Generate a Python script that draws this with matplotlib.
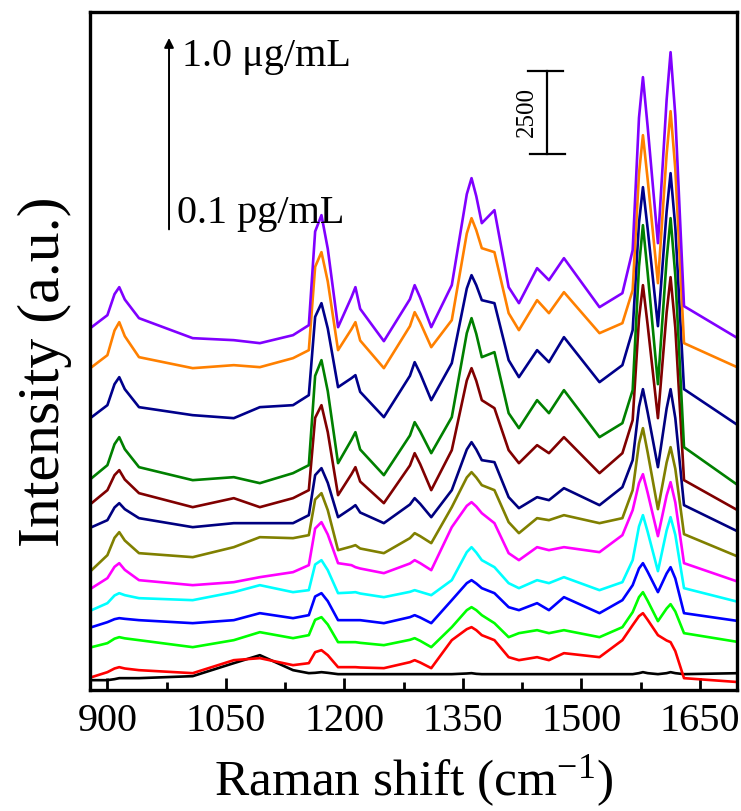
import numpy as np
import matplotlib
matplotlib.use('Agg')
import matplotlib.pyplot as plt

plt.rcParams['font.family'] = ['Liberation Serif', 'DejaVu Serif']
plt.rcParams['mathtext.fontset'] = 'custom'
plt.rcParams['mathtext.rm'] = 'Liberation Serif'
plt.rcParams['mathtext.it'] = 'Liberation Serif:italic'

# Raman shift positions (cm-1) where the spectra were read
shift = [880, 900, 909, 915, 922, 940, 1008, 1060, 1093, 1135, 1155, 1163, 1171, 1179, 1192, 1209,
         1214, 1220, 1250, 1283, 1289, 1296, 1310, 1336, 1355, 1361, 1367, 1374, 1390, 1408, 1421, 1444,
         1459, 1478, 1523, 1552, 1565, 1573, 1578, 1584, 1597, 1608, 1613, 1619, 1630, 1700]

# intensities (counts), bottom spectrum (blank) first, up to the highest concentration
blank = [300, 300, 330, 360, 360, 360, 420, 810, 1050, 600, 510, 520, 540, 520, 480, 480,
         480, 480, 480, 480, 480, 480, 480, 480, 500, 510, 490, 480, 480, 480, 480, 480,
         480, 480, 480, 480, 480, 510, 540, 510, 480, 510, 540, 510, 480, 510]
c01 = [390, 540, 650, 690, 650, 600, 510, 900, 960, 750, 810, 1140, 1200, 1050, 690, 690,
       690, 680, 660, 840, 900, 830, 660, 1500, 1830, 1890, 1800, 1650, 1500, 990, 900, 990,
       900, 1110, 990, 1500, 1950, 2220, 2310, 2110, 1650, 1490, 1440, 1170, 360, 240]
c02 = [1290, 1410, 1545, 1590, 1555, 1500, 1290, 1500, 1740, 1560, 1650, 2110, 2190, 1970, 1440, 1440,
       1440, 1420, 1350, 1510, 1560, 1480, 1290, 1890, 2400, 2490, 2400, 2250, 2010, 1590, 1710, 1800,
       1710, 1800, 1590, 1890, 2340, 2790, 2940, 2680, 2070, 2450, 2580, 2360, 1710, 1440]
c03 = [1890, 2040, 2130, 2160, 2140, 2100, 2010, 2100, 2310, 2160, 2250, 2810, 2910, 2670, 2100, 2100,
       2100, 2100, 2010, 2190, 2250, 2180, 2010, 2700, 3210, 3300, 3200, 3060, 2910, 2490, 2400, 2610,
       2400, 2790, 2310, 2700, 3150, 3650, 3810, 3550, 2940, 3500, 3690, 3350, 2310, 2070]
c04 = [2400, 2610, 2840, 2910, 2850, 2760, 2700, 2940, 3150, 2940, 3000, 3770, 3900, 3600, 2910, 2930,
       2940, 2900, 2790, 2950, 3000, 2950, 2850, 3300, 4140, 4290, 4130, 3900, 3690, 3210, 3060, 3300,
       3210, 3390, 3000, 3240, 3900, 4910, 5250, 4750, 3570, 4790, 5190, 4660, 3060, 2640]
c05 = [3060, 3360, 3700, 3810, 3610, 3300, 3150, 3240, 3390, 3540, 3750, 4850, 5040, 4670, 3810, 3750,
       3690, 3650, 3510, 3800, 3900, 3810, 3600, 4890, 5530, 5640, 5510, 5310, 5010, 4110, 3900, 4290,
       4200, 4290, 4140, 4650, 5400, 6210, 6480, 5920, 4620, 5840, 6240, 5630, 3810, 3240]
c06 = [3600, 4050, 4570, 4740, 4490, 4110, 3990, 4290, 4590, 4560, 4650, 5720, 5910, 5400, 4200, 4310,
       4350, 4250, 4110, 4560, 4710, 4620, 4410, 5490, 6380, 6540, 6380, 6150, 6000, 5040, 4710, 5160,
       5100, 5250, 5010, 5160, 6000, 7400, 7860, 7130, 5430, 6830, 7290, 6640, 4680, 3990]
c07 = [4890, 5100, 5480, 5610, 5430, 5160, 4890, 5010, 5010, 5010, 5250, 6450, 6660, 6220, 5190, 5460,
       5550, 5330, 5010, 5570, 5760, 5590, 5190, 6000, 7220, 7440, 7220, 6900, 6840, 5790, 5460, 5790,
       5700, 6060, 5550, 6090, 6900, 8500, 9030, 8330, 6690, 8450, 9030, 8160, 5550, 4740]
c08 = [5610, 6000, 6450, 6600, 6320, 5910, 5490, 5760, 5490, 5760, 6000, 8170, 8550, 7740, 5850, 6480,
       6690, 6260, 5610, 6740, 7110, 6780, 6000, 7200, 9290, 9660, 9280, 8700, 8460, 7200, 6810, 7350,
       7110, 7590, 6510, 7110, 8100, 11140, 12150, 10950, 8160, 11330, 12390, 10870, 6300, 5370]
c09 = [6360, 6750, 7380, 7590, 7230, 6690, 6300, 6390, 6210, 6510, 6750, 9430, 9900, 8970, 6810, 7510,
       7740, 7220, 6450, 7640, 8040, 7760, 7110, 8190, 10710, 11160, 10690, 9990, 10140, 8310, 7860, 8700,
       8310, 9000, 7590, 8010, 9000, 12710, 13950, 12520, 9180, 12920, 14160, 12440, 7290, 6120]
c10 = [8190, 8550, 9180, 9390, 9030, 8490, 8250, 8160, 8490, 8550, 8850, 11200, 11610, 10850, 9090, 9360,
       9450, 8950, 8190, 9430, 9840, 9500, 8700, 9810, 12050, 12450, 12150, 11700, 11610, 9900, 9390, 10200,
       9840, 10590, 9240, 9750, 10800, 14020, 15090, 13840, 10920, 14360, 15510, 13890, 9030, 7920]
c11 = [9690, 10050, 10790, 11040, 10620, 9990, 9660, 9750, 9690, 9960, 10200, 12700, 13140, 12260, 10200, 10830,
       11040, 10490, 9660, 10920, 11340, 11030, 10290, 11100, 13700, 14160, 13800, 13260, 13140, 11310, 10800, 11700,
       11310, 11940, 10710, 11010, 12000, 15490, 16650, 15320, 12210, 16080, 17370, 15630, 10410, 9660]
c12 = [10890, 11250, 11880, 12090, 11720, 11160, 10560, 10500, 10410, 10650, 10950, 13760, 14250, 13240, 10890, 11790,
       12090, 11440, 10470, 11730, 12150, 11770, 10890, 12150, 14880, 15360, 14820, 14010, 14400, 12090, 11610, 12660,
       12300, 12960, 11490, 11910, 13200, 17170, 18390, 16900, 13410, 17710, 19140, 17240, 11520, 10530]

spectra = [blank, c01, c02, c03, c04, c05, c06, c07, c08, c09, c10, c11, c12]
colors = ['#000000', '#ff0000', '#00ff00', '#0000ff', '#00ffff', '#ff00ff', '#808000',
          '#000080', '#800000', '#008000', '#00008b', '#ff8000', '#8000ff']

xticks = [900, 1050, 1200, 1350, 1500, 1650]

fig = plt.figure(figsize=(7.41, 8.11), dpi=100)
ax = fig.add_axes([0.1215, 0.149, 0.873, 0.836])

for y, c in zip(spectra, colors):
    ax.plot(shift, y, color=c, lw=1.9)

ax.set_xlim(878, 1697)
ax.set_ylim(0, 20340)

# concentration arrow and labels
ax.annotate('', xy=(978, 19650), xytext=(978, 13740),
            arrowprops=dict(arrowstyle='-|>', lw=1.4, color='black', mutation_scale=14))
ax.text(995, 18720, '1.0 \u03bcg/mL', fontsize=29, va='baseline', ha='left')
ax.text(988, 14010, '0.1 pg/mL', fontsize=29, va='baseline', ha='left')

# 2500 count scale bar
ax.plot([1456, 1456], [16080, 18580], color='black', lw=1.6)
ax.plot([1433, 1477], [18580, 18580], color='black', lw=1.6)
ax.plot([1435, 1479], [16080, 16080], color='black', lw=1.6)
ax.text(1431, 17330, '2500', fontsize=18, rotation=90, ha='center', va='center')

ax.set_xticks(xticks)
ax.set_xticks([975, 1125, 1275, 1425, 1575], minor=True)
ax.set_yticks([])
ax.tick_params(axis='x', which='major', direction='in', length=9, width=2, labelsize=29, pad=9)
ax.tick_params(axis='x', which='minor', direction='in', length=6, width=2)
for s in ax.spines.values():
    s.set_linewidth(2.4)

ax.set_xlabel('Raman shift (cm$^{-1}$)', fontsize=37, labelpad=10)
ax.set_ylabel('Intensity (a.u.)', fontsize=43)
ax.yaxis.set_label_coords(-0.028, 0.47)

fig.savefig('out.png', dpi=100)
